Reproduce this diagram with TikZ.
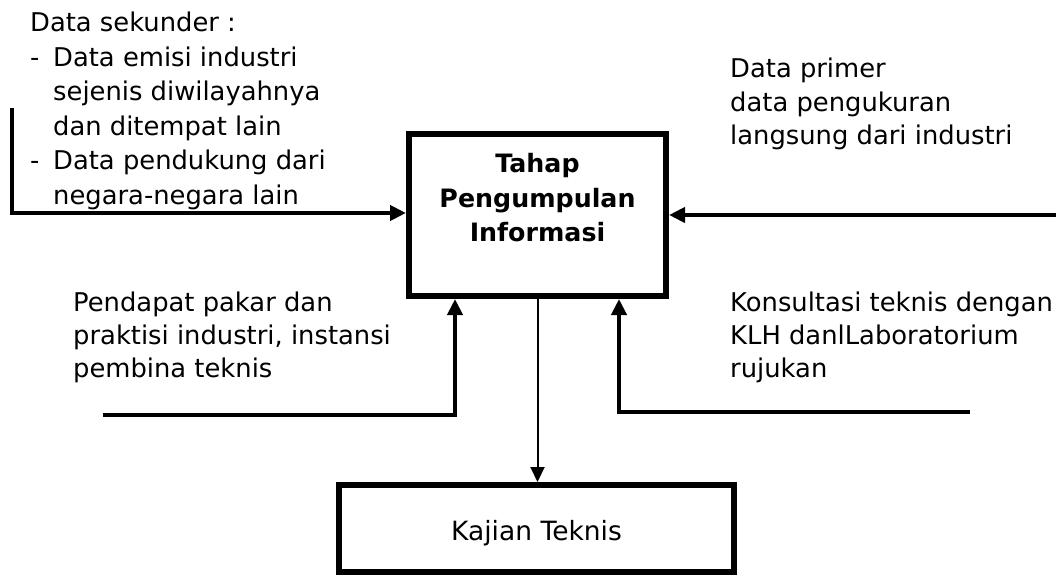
\documentclass[tikz,border=0pt]{standalone}
\usepackage{fontspec}
\setmainfont{DejaVu Sans}
\usetikzlibrary{arrows.meta}

% multi-line text block whose reference point is the first baseline
\newcommand\textlines[2]{\fontsize{25.8pt}{#1}\selectfont\begin{tabular}[t]{@{}l@{}}#2\end{tabular}}
\newcommand\itemdash{\makebox[23pt][l]{-}}
\newcommand\itemgap{\hspace*{23pt}}

\tikzset{
  box/.style={draw, line width=6pt, inner sep=0pt},
  conn/.style={line width=4pt, -{Triangle[length=16pt,width=15pt]}},
  feed/.style={line width=2pt, -{Triangle[length=15pt,width=14pt]}},
  txt/.style={inner sep=0pt, anchor=base west},
}

\begin{document}
\begin{tikzpicture}[x=1pt, y=-1pt]
  \useasboundingbox (0,0) rectangle (1056,577);

  % boxes
  \node[box, minimum width=257pt, minimum height=162pt] (tahap) at (537.5,215) {};
  \node[inner sep=0pt, anchor=base] (tahaptxt) at (537.5,173)
    {\fontsize{25.3pt}{34.5pt}\selectfont\bfseries\begin{tabular}[t]{@{}c@{}}Tahap\\Pengumpulan\\Informasi\end{tabular}};
  \node[box, minimum width=395pt, minimum height=87pt, text height=23pt, text depth=0pt,
        font=\fontsize{26.5pt}{30pt}\selectfont] (kajian) at (536.5,528.5) {Kajian Teknis};

  % labels
  \node[txt] (sekunder) at (30,32) {\fontsize{25.8pt}{34.5pt}\selectfont
    \begin{tabular}[t]{@{}l@{}}Data sekunder :\\
      \itemdash Data emisi industri\\
      \itemgap sejenis diwilayahnya\\
      \itemgap dan ditempat lain\\
      \itemdash Data pendukung dari\\
      \itemgap negara-negara lain\end{tabular}};
  \node[txt] (primer) at (730,78)
    {\textlines{33.5pt}{Data primer\\data pengukuran\\langsung dari industri}};
  \node[txt] (pakar) at (73,311)
    {\textlines{33pt}{Pendapat pakar dan\\praktisi industri, instansi\\pembina teknis}};
  \node[txt] (konsul) at (730,311)
    {\textlines{33pt}{Konsultasi teknis dengan\\KLH danlLaboratorium\\rujukan}};

  % connector end points
  \coordinate (s1) at (11.5,108);
  \coordinate (c1) at (11.5,213);
  \coordinate (s2) at (1056,215);
  \coordinate (s3) at (103,415);
  \coordinate (c3) at (455,415);
  \coordinate (s4) at (970,412);
  \coordinate (c4) at (619,412);

  % connectors
  \draw[conn] (s1) -- (c1) -- (tahap.west |- c1);
  \draw[conn] (s2) -- (tahap.east |- s2);
  \draw[conn] (s3) -- (c3) -- (c3 |- tahap.south);
  \draw[conn] (s4) -- (c4) -- (c4 |- tahap.south);
  \draw[feed] (tahap.south) -- (tahap.south |- kajian.north);
\end{tikzpicture}
\end{document}
